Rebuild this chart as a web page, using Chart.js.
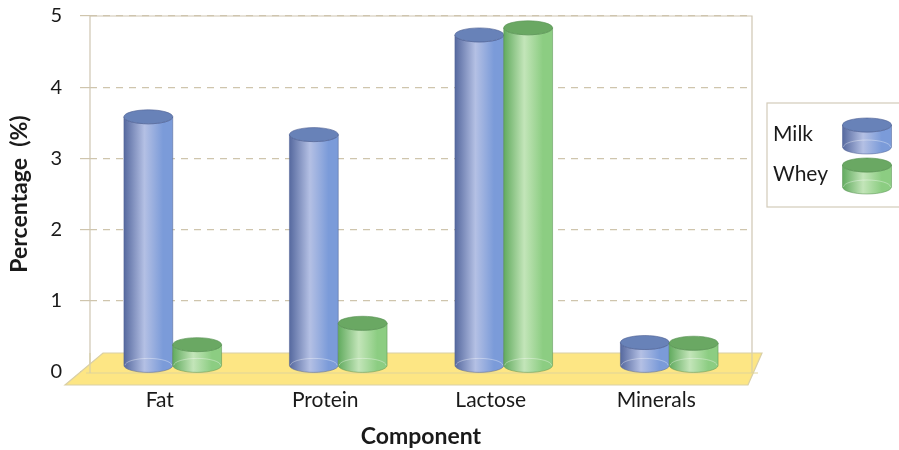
<!DOCTYPE html>
<html>
<head>
<meta charset="utf-8">
<script src="https://cdn.jsdelivr.net/npm/chart.js@4/dist/chart.umd.min.js"></script>
<style>
html, body { margin: 0; padding: 0; background: #fff; }
#wrap { width: 899px; height: 450px; }
</style>
</head>
<body>
<div id="wrap"><canvas id="grafico"></canvas></div>
<script>
// composition values (%) per component
const componentes = ["Fat", "Protein", "Lactose", "Minerals"]
const leche = [3.5, 3.25, 4.65, 0.33]
const suero = [0.3, 0.6, 4.75, 0.32]
const ticksY = [0, 1, 2, 3, 4, 5]

const tonos = {
    Milk: {oscuro: "#56699f", claro: "#b4c0e4", medio: "#7b9bd9", tapa: "#6882b8", borde: "#4d5f93"},
    Whey: {oscuro: "#62ab5f", claro: "#c3e5b9", medio: "#8ccd82", tapa: "#6aa863", borde: "#558f50"}
}

const PROF = 6   // depth shift of the cylinders in front of the wall
const RY = 7

function cilindro(ctx, cx, top, bottom, w, t){
    const rx = w / 2
    ctx.save()
    let g = ctx.createLinearGradient(cx - rx, 0, cx + rx, 0)
    g.addColorStop(0, t.oscuro)
    g.addColorStop(0.42, t.claro)
    g.addColorStop(0.8, t.medio)
    g.addColorStop(1, t.medio)
    ctx.beginPath()
    ctx.moveTo(cx - rx, top)
    ctx.lineTo(cx - rx, bottom)
    ctx.ellipse(cx, bottom, rx, RY, 0, Math.PI, 0, true)
    ctx.lineTo(cx + rx, top)
    ctx.ellipse(cx, top, rx, RY, 0, 0, Math.PI, false)
    ctx.closePath()
    ctx.fillStyle = g
    ctx.fill()
    ctx.strokeStyle = t.borde
    ctx.globalAlpha = 0.5
    ctx.lineWidth = 1
    ctx.stroke()
    // back rim of the base seen through the body
    ctx.globalAlpha = 0.35
    ctx.strokeStyle = "#ffffff"
    ctx.beginPath()
    ctx.ellipse(cx, bottom, rx - 1, RY, 0, Math.PI, 2 * Math.PI)
    ctx.stroke()
    ctx.globalAlpha = 1
    // lid
    ctx.beginPath()
    ctx.ellipse(cx, top, rx, RY, 0, 0, 2 * Math.PI)
    ctx.fillStyle = t.tapa
    ctx.fill()
    ctx.strokeStyle = t.borde
    ctx.globalAlpha = 0.6
    ctx.stroke()
    ctx.restore()
}

const escena3d = {
    id: "escena3d",
    beforeDatasetsDraw(chart){
        const ctx = chart.ctx
        const a = chart.chartArea
        const y0 = chart.scales.y.getPixelForValue(0)
        ctx.save()
        // back wall outline
        ctx.strokeStyle = "#cfc6b2"
        ctx.lineWidth = 1.2
        ctx.beginPath()
        ctx.moveTo(a.left, y0 + 1)
        ctx.lineTo(a.left, a.top)
        ctx.lineTo(a.right, a.top)
        ctx.lineTo(a.right, y0 + 1)
        ctx.stroke()
        // floor
        ctx.beginPath()
        ctx.moveTo(a.left + 13, y0 - 19)
        ctx.lineTo(a.right + 10, y0 - 19)
        ctx.lineTo(a.right - 4, y0 + 13)
        ctx.lineTo(a.left - 25, y0 + 13)
        ctx.closePath()
        ctx.fillStyle = "#fde684"
        ctx.fill()
        ctx.strokeStyle = "#d9cfa6"
        ctx.stroke()
        ctx.beginPath()
        ctx.moveTo(a.left - 4, y0 + 1)
        ctx.lineTo(a.right + 6, y0 + 1)
        ctx.strokeStyle = "#e0d39a"
        ctx.stroke()
        ctx.beginPath()
        ctx.moveTo(a.left, y0 - 19)
        ctx.lineTo(a.left, y0 + 1)
        ctx.moveTo(a.right, y0 - 19)
        ctx.lineTo(a.right, y0 + 1)
        ctx.strokeStyle = "#d8cfa8"
        ctx.stroke()
        ctx.restore()
    },
    afterDatasetsDraw(chart){
        const ctx = chart.ctx
        chart.data.datasets.forEach(function(ds, i){
            const meta = chart.getDatasetMeta(i)
            meta.data.forEach(function(el){
                cilindro(ctx, el.x, el.y - PROF, el.base - PROF, el.width, tonos[ds.label])
            })
        })
        // legend box
        const a = chart.chartArea
        const bx = a.right + 15, by = 103
        ctx.save()
        ctx.strokeStyle = "#d3cbb9"
        ctx.lineWidth = 1.2
        ctx.strokeRect(bx, by, chart.width - bx + 5, 104)
        ctx.font = "21px Lato"
        ctx.fillStyle = "#1a1a1a"
        ctx.textBaseline = "middle"
        chart.data.datasets.forEach(function(ds, i){
            const yc = by + 31 + i * 40
            ctx.fillText(ds.label, bx + 6, yc)
            cilindro(ctx, bx + 100, yc - 9, yc + 13, 49, tonos[ds.label])
        })
        ctx.restore()
    }
}

const ctx = document.getElementById("grafico").getContext("2d")

new Chart(ctx, {
    type: "bar",
    data: {
        labels: componentes,
        datasets: [
            {label: "Milk", data: leche, backgroundColor: "rgba(0,0,0,0)", borderWidth: 0},
            {label: "Whey", data: suero, backgroundColor: "rgba(0,0,0,0)", borderWidth: 0}
        ]
    },
    options: {
        responsive: true,
        maintainAspectRatio: false,
        animation: false,
        layout: {padding: {left: 2, right: 147, top: 4, bottom: 0}},
        datasets: {bar: {barPercentage: 1, categoryPercentage: 0.59}},
        plugins: {
            legend: {display: false},
            tooltip: {enabled: false}
        },
        scales: {
            x: {
                grid: {display: false, drawTicks: false},
                border: {display: false},
                ticks: {
                    font: {family: "Lato", size: 21},
                    color: "#1a1a1a",
                    padding: 16,
                    labelOffset: -13
                },
                title: {
                    display: true,
                    text: "Component",
                    font: {family: "Lato", size: 23, weight: "bold"},
                    color: "#1a1a1a",
                    padding: {top: 0, bottom: 0}
                },
                afterFit(scale){ scale.height = 78 }
            },
            y: {
                min: 0,
                max: 5,
                afterBuildTicks(scale){ scale.ticks = ticksY.map(v => ({value: v})) },
                grid: {
                    color: "#cfc5ad",
                    tickColor: "#cfc5ad",
                    tickLength: 10,
                    lineWidth: 1.2
                },
                border: {display: false, dash: [7, 6]},
                ticks: {
                    font: {family: "Lato", size: 20},
                    color: "#1a1a1a",
                    padding: 18
                },
                title: {
                    display: true,
                    text: "Percentage  (%)",
                    font: {family: "Lato", size: 23, weight: "bold"},
                    color: "#1a1a1a",
                    padding: {top: 4, bottom: 0}
                },
                afterFit(scale){
                    scale.width = 88
                    scale.paddingTop = 16
                    scale.paddingBottom = 0
                }
            }
        }
    },
    plugins: [escena3d]
})
</script>
</body>
</html>
